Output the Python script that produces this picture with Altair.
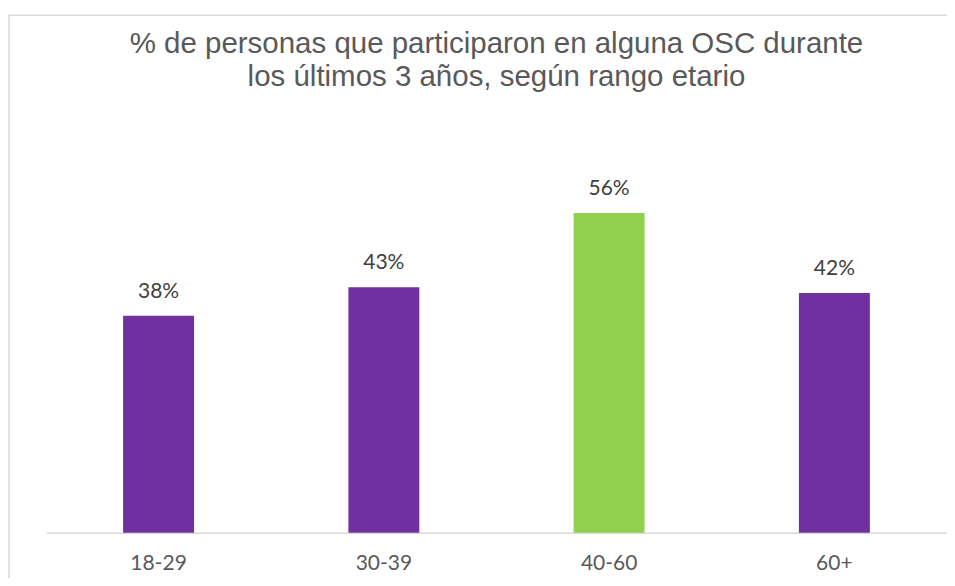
import altair as alt
import pandas as pd

categories = ["18-29", "30-39", "40-60", "60+"]
values = [0.38, 0.43, 0.56, 0.42]
colors = ["#7030A0", "#7030A0", "#92D050", "#7030A0"]
labels = ["38%", "43%", "56%", "42%"]

df = pd.DataFrame({"cat": categories, "val": values, "color": colors, "label": labels})

x = alt.X("cat:N", sort=categories, title=None,
          scale=alt.Scale(paddingInner=0.685, paddingOuter=0.3425),
          axis=alt.Axis(labelAngle=0, ticks=False, domainColor="#D9D9D9", domainWidth=1.5,
                        labelFont="Lato", labelFontSize=21, labelColor="#595959",
                        labelPadding=20, grid=False))
y = alt.Y("val:Q", scale=alt.Scale(domain=[0, 0.7]), axis=None)

border = alt.Chart(pd.DataFrame({"a": [0]})).mark_rect(
    fill=None, stroke="#D9D9D9", strokeWidth=1.5
).encode(x=alt.value(-37), x2=alt.value(1000), y=alt.value(-118), y2=alt.value(1000))

bars = alt.Chart(df).mark_bar().encode(
    x=x, y=y, color=alt.Color("color:N", scale=None)
)
text = alt.Chart(df).mark_text(baseline="bottom", dy=-14, font="Lato", fontSize=21, color="#404040").encode(
    x=alt.X("cat:N", sort=categories), y="val:Q", text="label:N"
)

chart = alt.layer(border, bars, text).properties(
    width=902, height=400,
    title=alt.TitleParams(
        ["% de personas que participaron en alguna OSC durante", "los últimos 3 años, según rango etario"],
        font="Liberation Sans", fontSize=29.5, fontWeight="normal", color="#595959",
        anchor="middle", offset=-78, lineHeight=33
    ),
    padding={"left": 38, "top": 125, "right": 0, "bottom": 45},
    autosize=alt.AutoSizeParams(type="none"),
).configure_view(stroke=None)

chart.save("out.html", embed_options={"renderer": "svg", "actions": False})
